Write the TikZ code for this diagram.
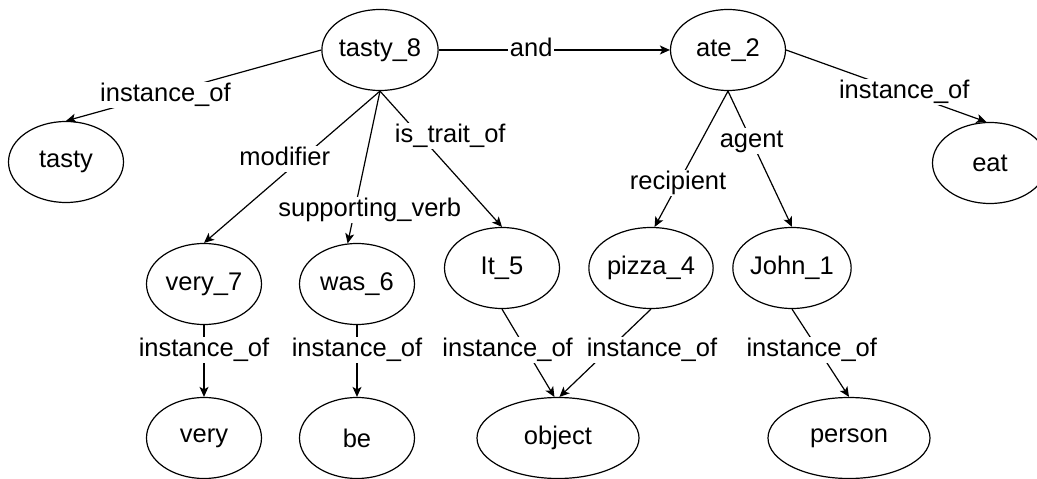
\documentclass[tikz,border=0pt]{standalone}
\usepackage{fontspec}
\setmainfont{Liberation Sans}
\usetikzlibrary{shapes.geometric,arrows.meta}
\tikzset{
  ent/.style={draw, ellipse, line width=1.2bp, minimum width=115bp, minimum height=81bp, inner sep=0pt},
  wide/.style={ent, minimum width=162bp},
  rel/.style={line width=1.2bp, -{Stealth[length=10bp,width=9bp,inset=2.5bp]}},
  lbl/.style={fill=white, inner sep=1.5bp, text height=18bp, text depth=5bp},
}
\begin{document}
\begin{tikzpicture}[x=1bp,y=-1bp,font=\fontsize{25.5bp}{30bp}\selectfont]
\useasboundingbox (0,0) rectangle (1037,479);
% nodes
\node[ent] (tasty8) at (380,50) {tasty\_8};
\node[ent] (ate2) at (728,50) {ate\_2};
\node[ent] (tasty) at (66,162) {tasty};
\node[ent] (eat) at (990,163) {eat};
\node[ent] (very7) at (204,284) {very\_7};
\node[ent] (was6) at (357,284) {was\_6};
\node[ent] (it5) at (502,268) {It\_5};
\node[ent] (pizza4) at (651,268) {pizza\_4};
\node[ent] (john1) at (792,268) {John\_1};
\node[ent] (very) at (204,438) {very};
\node[ent] (be) at (357,438) {be};
\node[wide] (object) at (558,438) {object};
\node[wide] (person) at (849,438) {person};
% edges
\draw[rel] (tasty8.west) -- (tasty.north) node[lbl,pos=0.63,xshift=5bp] {instance\_of};
\draw[rel] (tasty8.east) -- (ate2.west) node[lbl,pos=0.4] {and};
\draw[rel] (ate2.east) -- (eat.95) node[lbl,pos=0.59] {instance\_of};
\draw[rel] (tasty8.south) -- (very7.north) node[lbl,pos=0.45,xshift=-16bp] {modifier};
\draw[rel] (tasty8.south) -- (was6.103) node[lbl,pos=0.78,xshift=15bp] {supporting\_verb};
\draw[rel] (tasty8.south) -- (it5.north) node[lbl,pos=0.33,xshift=30bp] {is\_trait\_of};
\draw[rel] (ate2.south) -- (pizza4.85) node[lbl,pos=0.68] {recipient};
\draw[rel] (ate2.south) -- (john1.north) node[lbl,pos=0.37] {agent};
\draw[rel] (very7.south) -- (very.north) node[lbl,pos=0.35] {instance\_of};
\draw[rel] (was6.south) -- (be.north) node[lbl,pos=0.35] {instance\_of};
\draw[rel] (it5.south) -- (object.95) node[lbl,pos=0.47,xshift=-19bp] {instance\_of};
\draw[rel] (pizza4.south) -- (object.88) node[lbl,pos=0.47,xshift=44bp] {instance\_of};
\draw[rel] (john1.south) -- (person.north) node[lbl,pos=0.47,xshift=-7bp] {instance\_of};
\end{tikzpicture}
\end{document}
